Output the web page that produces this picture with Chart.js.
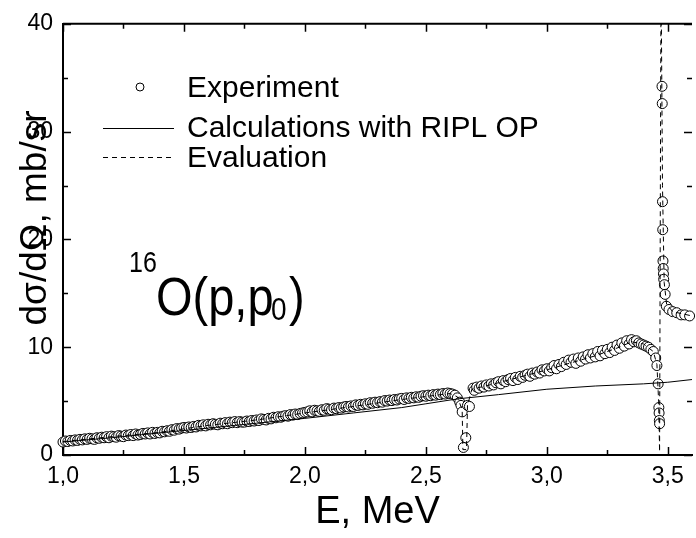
<!DOCTYPE html>
<html>
<head>
<meta charset="utf-8">
<script src="https://cdn.jsdelivr.net/npm/chart.js@4"></script>
<style>
  html, body { margin: 0; padding: 0; background: #fff; overflow: hidden; }
  #wrap { width: 698px; height: 538px; }
</style>
</head>
<body>
<div id="wrap"><canvas id="xsChart" width="698" height="538"></canvas></div>
<script>
// 16O(p,p0) excitation function
const expE = [
  1.00, 1.01, 1.02, 1.03, 1.04, 1.05, 1.06, 1.07, 1.08, 1.09,
  1.10, 1.11, 1.12, 1.13, 1.14, 1.15, 1.16, 1.17, 1.18, 1.19,
  1.20, 1.21, 1.22, 1.23, 1.24, 1.25, 1.26, 1.27, 1.28, 1.29,
  1.30, 1.31, 1.32, 1.33, 1.34, 1.35, 1.36, 1.37, 1.38, 1.39,
  1.40, 1.41, 1.42, 1.43, 1.44, 1.45, 1.46, 1.47, 1.48, 1.49,
  1.50, 1.51, 1.52, 1.53, 1.54, 1.55, 1.56, 1.57, 1.58, 1.59,
  1.60, 1.61, 1.62, 1.63, 1.64, 1.65, 1.66, 1.67, 1.68, 1.69,
  1.70, 1.71, 1.72, 1.73, 1.74, 1.75, 1.76, 1.77, 1.78, 1.79,
  1.80, 1.81, 1.82, 1.83, 1.84, 1.85, 1.86, 1.87, 1.88, 1.89,
  1.90, 1.91, 1.92, 1.93, 1.94, 1.95, 1.96, 1.97, 1.98, 1.99,
  2.00, 2.01, 2.02, 2.03, 2.04, 2.05, 2.06, 2.07, 2.08, 2.09,
  2.10, 2.11, 2.12, 2.13, 2.14, 2.15, 2.16, 2.17, 2.18, 2.19,
  2.20, 2.21, 2.22, 2.23, 2.24, 2.25, 2.26, 2.27, 2.28, 2.29,
  2.30, 2.31, 2.32, 2.33, 2.34, 2.35, 2.36, 2.37, 2.38, 2.39,
  2.40, 2.41, 2.42, 2.43, 2.44, 2.45, 2.46, 2.47, 2.48, 2.49,
  2.50, 2.51, 2.52, 2.53, 2.54, 2.55, 2.56, 2.57, 2.58, 2.59,
  2.60, 2.61, 2.62, 2.63, 2.64, 2.645, 2.65, 2.655, 2.665, 2.672,
  2.68, 2.695, 2.70, 2.71, 2.72, 2.73, 2.74, 2.75, 2.76, 2.77,
  2.78, 2.79, 2.80, 2.81, 2.82, 2.83, 2.84, 2.85, 2.86, 2.87,
  2.88, 2.89, 2.90, 2.91, 2.92, 2.93, 2.94, 2.95, 2.96, 2.97,
  2.98, 2.99, 3.00, 3.01, 3.02, 3.03, 3.04, 3.05, 3.06, 3.07,
  3.08, 3.09, 3.10, 3.11, 3.12, 3.13, 3.14, 3.15, 3.16, 3.17,
  3.18, 3.19, 3.20, 3.21, 3.22, 3.23, 3.24, 3.25, 3.26, 3.27,
  3.28, 3.29, 3.30, 3.31, 3.32, 3.33, 3.34, 3.35, 3.36, 3.37,
  3.38, 3.39, 3.40, 3.41, 3.42, 3.43, 3.44, 3.45, 3.455, 3.46,
  3.463, 3.464, 3.465, 3.466, 3.476, 3.477, 3.478, 3.479, 3.48, 3.481,
  3.482, 3.483, 3.486, 3.489, 3.494, 3.505, 3.52, 3.537, 3.555, 3.57,
  3.59
];
const expSigma = [
  1.20, 1.30, 1.25, 1.35, 1.30, 1.40, 1.35, 1.45, 1.40, 1.50,
  1.45, 1.55, 1.50, 1.45, 1.60, 1.55, 1.65, 1.60, 1.70, 1.60,
  1.75, 1.70, 1.65, 1.80, 1.75, 1.70, 1.85, 1.80, 1.90, 1.80,
  1.95, 1.85, 1.90, 2.00, 1.95, 2.05, 1.95, 2.10, 2.00, 2.10,
  2.05, 2.20, 2.15, 2.25, 2.20, 2.35, 2.30, 2.45, 2.40, 2.50,
  2.55, 2.50, 2.60, 2.55, 2.65, 2.60, 2.75, 2.70, 2.80, 2.70,
  2.85, 2.80, 2.90, 2.85, 2.80, 2.95, 2.90, 3.00, 2.90, 3.05,
  3.00, 3.10, 3.00, 3.10, 3.05, 3.05, 3.15, 3.10, 3.20, 3.15,
  3.25, 3.20, 3.35, 3.30, 3.25, 3.40, 3.35, 3.50, 3.45, 3.55,
  3.50, 3.60, 3.65, 3.60, 3.75, 3.70, 3.80, 3.75, 3.85, 3.90,
  3.95, 4.00, 4.10, 4.00, 4.15, 4.10, 4.05, 4.20, 4.15, 4.30,
  4.25, 4.20, 4.35, 4.30, 4.40, 4.35, 4.45, 4.50, 4.45, 4.55,
  4.50, 4.65, 4.60, 4.70, 4.65, 4.75, 4.70, 4.85, 4.80, 4.90,
  4.85, 4.95, 4.90, 5.05, 5.00, 5.10, 5.05, 5.15, 5.10, 5.20,
  5.25, 5.15, 5.30, 5.25, 5.35, 5.30, 5.40, 5.35, 5.45, 5.50,
  5.45, 5.55, 5.50, 5.60, 5.55, 5.65, 5.60, 5.70, 5.65, 5.75,
  5.70, 5.65, 5.55, 5.30, 4.90, 4.60, 4.00, 0.70, 1.60, 4.60,
  4.50, 6.20, 6.00, 6.30, 6.20, 6.40, 6.30, 6.50, 6.40, 6.60,
  6.50, 6.70, 6.80, 6.60, 6.90, 6.80, 7.00, 7.10, 6.90, 7.20,
  7.00, 7.30, 7.20, 7.40, 7.50, 7.30, 7.60, 7.50, 7.70, 7.60,
  7.90, 7.80, 8.00, 7.80, 8.10, 8.30, 8.00, 8.40, 8.20, 8.60,
  8.40, 8.80, 8.60, 8.90, 8.50, 9.00, 8.70, 9.10, 8.90, 9.30,
  9.00, 9.40, 9.10, 9.60, 9.20, 9.70, 9.40, 9.80, 9.50, 10.0,
  9.70, 10.2, 9.90, 10.4, 10.1, 10.6, 10.3, 10.7, 10.5, 10.6,
  10.4, 10.3, 10.2, 10.1, 10.0, 9.80, 9.60, 9.00, 8.30, 6.60,
  4.40, 3.90, 3.20, 2.90, 34.2, 32.6, 23.5, 20.9, 18.0, 17.3,
  16.8, 16.3, 15.8, 14.9, 13.8, 13.5, 13.3, 13.2, 13.0, 13.0,
  12.9
];

const calcE = [1.0, 1.2, 1.4, 1.6, 1.8, 2.0, 2.2, 2.4, 2.5, 2.6, 2.65, 2.8, 3.0, 3.2, 3.4, 3.5, 3.6];
const calcSigma = [1.2, 1.6, 2.05, 2.5, 2.95, 3.4, 3.9, 4.4, 4.75, 5.1, 5.25, 5.6, 6.1, 6.4, 6.6, 6.75, 7.0];

const evalE = [
  1.0, 1.2, 1.4, 1.6, 1.8, 2.0, 2.2, 2.4, 2.6, 2.63,
  2.65, 2.653, 2.668, 2.672, 2.69, 2.8, 3.0, 3.2, 3.3, 3.35,
  3.4, 3.44, 3.455, 3.462, 3.466, 3.472, 3.478, 3.485, 3.495, 3.52, 3.6
];
const evalSigma = [
  1.25, 1.7, 2.1, 2.75, 3.25, 3.9, 4.5, 5.15, 5.7, 5.4,
  4.2, 0.5, 0.5, 4.6, 6.1, 6.7, 7.9, 9.2, 10.0, 10.5,
  10.3, 9.6, 8.4, 5.0, 0.3, 45, 25, 16, 14, 13.3, 12.9
];

const legendLabels = ['Experiment', 'Calculations with RIPL OP', 'Evaluation'];
const yTitle = 'dσ/dΩ, mb/sr';
const xTitle = 'E, MeV';

const FONT = "'Liberation Sans', Arial, sans-serif";

function pairs(xs, ys) {
  return xs.map((x, i) => ({ x: x, y: ys[i] }));
}

// ticks inside the frame on all four sides, top frame line, legend and labels
const framePlugin = {
  id: 'frame',
  afterDraw(chart) {
    const ctx = chart.ctx;
    const a = chart.chartArea;
    const xs = chart.scales.x;
    const ys = chart.scales.y;
    ctx.save();
    ctx.strokeStyle = '#000';
    ctx.lineWidth = 1.5;
    ctx.beginPath();
    for (let v = 1.0; v <= 3.6 + 1e-9; v += 0.25) {
      const px = Math.round(xs.getPixelForValue(v)) + 0.5;
      const len = Math.abs(v * 2 - Math.round(v * 2)) < 1e-6 ? 8 : 5;
      ctx.moveTo(px, a.bottom); ctx.lineTo(px, a.bottom - len);
      ctx.moveTo(px, a.top); ctx.lineTo(px, a.top + len);
    }
    for (let v = 0; v <= 40; v += 5) {
      const py = Math.round(ys.getPixelForValue(v)) + 0.5;
      const len = v % 10 === 0 ? 8 : 5;
      ctx.moveTo(a.left, py); ctx.lineTo(a.left + len, py);
      ctx.moveTo(a.right, py); ctx.lineTo(a.right - len, py);
    }
    ctx.stroke();
    ctx.lineWidth = 2;
    ctx.beginPath();
    ctx.moveTo(a.left, a.top); ctx.lineTo(a.right, a.top);
    ctx.stroke();

    // legend
    ctx.fillStyle = '#000';
    ctx.font = '30px ' + FONT;
    ctx.textBaseline = 'alphabetic';
    ctx.textAlign = 'left';
    ctx.lineWidth = 1;
    ctx.beginPath();
    ctx.arc(140, 87, 4, 0, Math.PI * 2);
    ctx.stroke();
    ctx.fillText(legendLabels[0], 187, 97);
    ctx.beginPath();
    ctx.moveTo(103, 128.5); ctx.lineTo(174, 128.5);
    ctx.stroke();
    ctx.fillText(legendLabels[1], 187, 137);
    ctx.setLineDash([5, 4]);
    ctx.beginPath();
    ctx.moveTo(103, 157.5); ctx.lineTo(174, 157.5);
    ctx.stroke();
    ctx.setLineDash([]);
    ctx.fillText(legendLabels[2], 187, 167);

    // reaction label
    ctx.save();
    ctx.translate(0, 315);
    ctx.scale(1, 1.15);
    ctx.font = '25px ' + FONT;
    ctx.fillText('16', 129, -37);
    ctx.font = '47px ' + FONT;
    ctx.fillText('O(p,p', 156, 0);
    ctx.font = '28px ' + FONT;
    ctx.fillText('0', 271, 4);
    ctx.font = '47px ' + FONT;
    ctx.fillText(')', 289, 0);
    ctx.restore();

    // y axis title, drawn over the tick labels like the original
    ctx.save();
    ctx.translate(46, 218);
    ctx.rotate(-Math.PI / 2);
    ctx.textAlign = 'center';
    ctx.font = '37px ' + FONT;
    ctx.fillText(yTitle, 0, 0);
    ctx.restore();
    ctx.restore();
  }
};

new Chart(document.getElementById('xsChart'), {
  type: 'scatter',
  data: {
    datasets: [
      {
        label: legendLabels[0],
        data: pairs(expE, expSigma),
        pointRadius: 5,
        pointBorderWidth: 1,
        borderColor: '#000',
        backgroundColor: '#fff',
        clip: false,
        order: 3
      },
      {
        label: legendLabels[1],
        data: pairs(calcE, calcSigma),
        showLine: true,
        pointRadius: 0,
        borderColor: '#000',
        borderWidth: 1,
        clip: 0,
        order: 2
      },
      {
        label: legendLabels[2],
        data: pairs(evalE, evalSigma),
        showLine: true,
        pointRadius: 0,
        borderColor: '#000',
        borderWidth: 1,
        borderDash: [5, 4],
        clip: 0,
        order: 1
      }
    ]
  },
  options: {
    responsive: false,
    animation: false,
    layout: { padding: { top: 21, right: 1, left: 0, bottom: 0 } },
    plugins: { legend: { display: false }, tooltip: { enabled: false } },
    scales: {
      x: {
        type: 'linear',
        min: 1.0,
        max: 3.6,
        afterFit: s => { s.height = 83; },
        grid: { display: false, drawTicks: false },
        border: { display: true, color: '#000', width: 2 },
        ticks: {
          stepSize: 0.5,
          includeBounds: false,
          padding: 8,
          color: '#000',
          font: { family: FONT, size: 23 },
          maxRotation: 0,
          callback: v => v.toFixed(1).replace('.', ',')
        },
        title: {
          display: true,
          text: xTitle,
          color: '#000',
          font: { family: FONT, size: 38 },
          padding: { top: 0, bottom: 3 }
        }
      },
      y: {
        min: 0,
        max: 40,
        afterFit: s => { s.width = 63; },
        grid: { display: false, drawTicks: false },
        border: { display: true, color: '#000', width: 2 },
        ticks: {
          stepSize: 10,
          padding: 10,
          color: '#000',
          font: { family: FONT, size: 23 }
        }
      }
    }
  },
  plugins: [framePlugin]
});
</script>
</body>
</html>
